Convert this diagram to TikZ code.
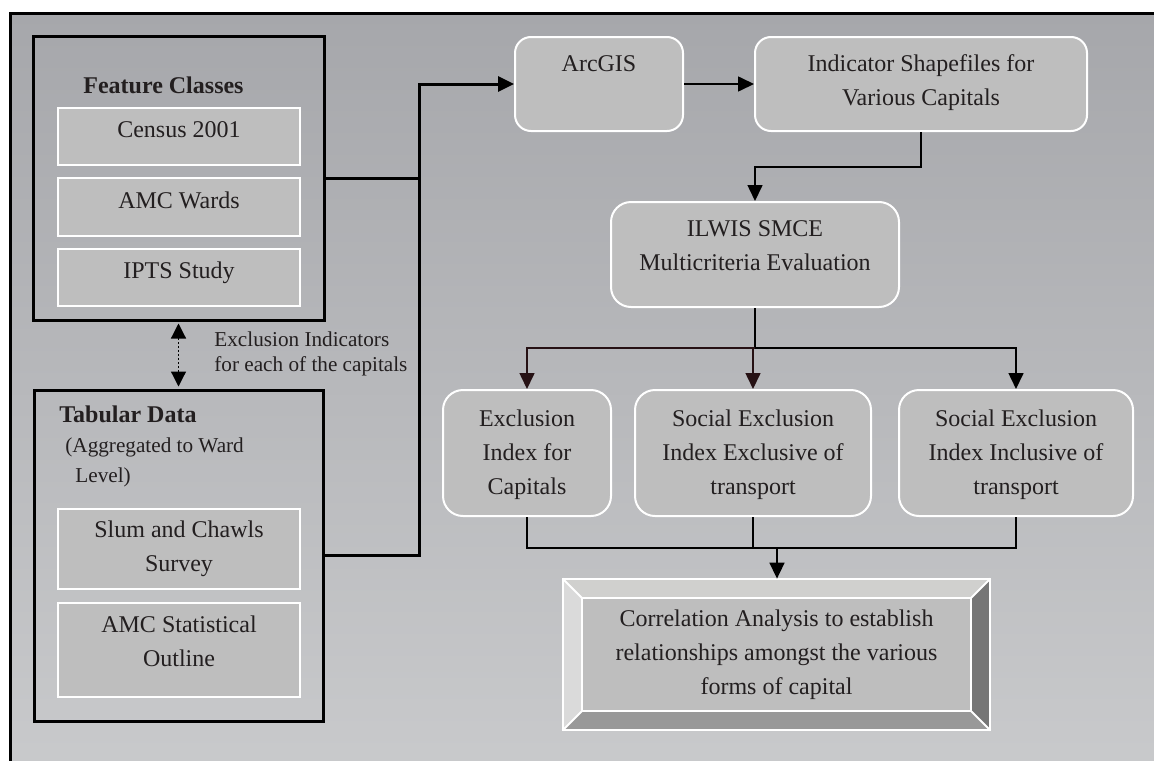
\documentclass[tikz,border=0pt]{standalone}
\usepackage{fontspec}
\setmainfont{Liberation Serif}
\usetikzlibrary{arrows.meta,calc}

\definecolor{bgtop}{HTML}{A6A7AB}
\definecolor{bgbot}{HTML}{C9CACC}
\definecolor{boxfill}{HTML}{BEBEBE}
\definecolor{ink}{HTML}{231F20}
\definecolor{darklink}{HTML}{261114}
\definecolor{bevtop}{HTML}{D0D0CE}
\definecolor{bevleft}{HTML}{DADADA}
\definecolor{bevright}{HTML}{767676}
\definecolor{bevbot}{HTML}{999999}

\tikzset{
  pane/.style={draw=black, line width=1.5pt, inner sep=0pt},
  item/.style={draw=white, line width=1pt, fill=boxfill, inner sep=0pt},
  rbox/.style={item, rounded corners=8pt},
  txt/.style={text=ink, font=\fontsize{12}{17}\selectfont, align=center, anchor=base, inner sep=0pt},
  small/.style={text=ink, font=\fontsize{10.6}{12.3}\selectfont, align=left, anchor=base west, inner sep=0pt},
  head/.style={text=ink, font=\fontsize{12}{17}\selectfont\bfseries, anchor=base west, inner sep=0pt},
  link/.style={draw=black, line width=0.8pt},
  heavy/.style={draw=black, line width=1.5pt},
  tip/.style={-{Triangle[length=8pt,width=7.5pt]}},
}

\begin{document}
\begin{tikzpicture}[x=0.5pt,y=-0.5pt]
\useasboundingbox (0,0) rectangle (1154,760);
\clip (0,0) rectangle (1154,760);
\fill[white] (0,0) rectangle (1154,760);

% page frame with grey gradient
\shade[top color=bgtop,bottom color=bgbot] (10,13) rectangle (1170,775);
\draw[line width=1.5pt] (10,13) rectangle (1170,775);

% ---- left column: input data ----
% (multi-line labels are placed by the baseline of their last line)
\node[pane, minimum width=145.5pt, minimum height=142pt] (feat) at (178.5,178) {};
\node[head] (feathead) at (83,93) {Feature Classes};
\node[item, minimum width=121pt, minimum height=28.5pt] (census) at (179,136.5) {};
\node[item, minimum width=121pt, minimum height=29pt] (wards) at (179,207) {};
\node[item, minimum width=121pt, minimum height=28.5pt] (ipts) at (179,277.5) {};
\node[txt] (censustxt) at (179,137) {Census 2001};
\node[txt] (wardstxt) at (179,208) {AMC Wards};
\node[txt] (iptstxt) at (179,278) {IPTS Study};

\node[pane, minimum width=144.5pt, minimum height=165.5pt] (tab) at (178.5,555.5) {};
\node[head] (tabhead) at (59,422) {Tabular Data};
\node[small, font=\fontsize{10.6}{15}\selectfont] (agg) at (65,482) {(Aggregated to Ward\\\hspace*{5pt}Level)};
\node[item, minimum width=121pt, minimum height=40pt] (slum) at (179,549) {};
\node[item, minimum width=121pt, minimum height=47pt] (stat) at (179,650) {};
\node[txt] (slumtxt) at (179,571) {Slum and Chawls\\Survey};
\node[txt] (stattxt) at (179,666) {AMC Statistical\\Outline};

\draw[black, line width=0.6pt, dash pattern=on 1pt off 1pt,
      {Triangle[length=7.5pt,width=7.5pt]}-{Triangle[length=7.5pt,width=7.5pt]},
      shorten <=1pt, shorten >=1pt] (feat.south) -- (tab.north);
\node[small] (exlab) at (214,371) {Exclusion Indicators\\for each of the capitals};

% ---- processing chain ----
\node[rbox, minimum width=84pt, minimum height=47pt] (arc) at (599,84) {};
\node[txt] (arctxt) at (599,71) {ArcGIS};
\node[rbox, minimum width=166pt, minimum height=47pt] (ind) at (921,84) {};
\node[txt] (indtxt) at (921,105) {Indicator Shapefiles for\\Various Capitals};
\node[rbox, rounded corners=10pt, minimum width=144pt, minimum height=52.5pt] (ilw) at (755,254.5) {};
\node[txt] (ilwtxt) at (755,270) {ILWIS SMCE\\Multicriteria Evaluation};

\node[rbox, rounded corners=10pt, minimum width=84pt, minimum height=63pt] (exc) at (527,453) {};
\node[txt] (exctxt) at (527,494) {Exclusion\\Index for\\Capitals};
\node[rbox, rounded corners=10pt, minimum width=118pt, minimum height=63pt] (mid) at (753,453) {};
\node[txt] (midtxt) at (753,494) {Social Exclusion\\Index Exclusive of\\transport};
\node[rbox, rounded corners=10pt, minimum width=117pt, minimum height=63pt] (rig) at (1016,453) {};
\node[txt] (rigtxt) at (1016,494) {Social Exclusion\\Index Inclusive of\\transport};

% bevelled result box
\node[minimum width=213.5pt, minimum height=75.5pt, inner sep=0pt] (corr) at (776.5,654.5) {};
\coordinate (inw) at ($(corr.north west)+(19,19)$);
\coordinate (ine) at ($(corr.north east)+(-19,19)$);
\coordinate (isw) at ($(corr.south west)+(19,-19)$);
\coordinate (ise) at ($(corr.south east)+(-19,-19)$);
\fill[bevtop] (corr.north west) -- (corr.north east) -- (ine) -- (inw) -- cycle;
\fill[bevleft] (corr.north west) -- (inw) -- (isw) -- (corr.south west) -- cycle;
\fill[bevright] (corr.north east) -- (corr.south east) -- (ise) -- (ine) -- cycle;
\fill[bevbot] (corr.south west) -- (isw) -- (ise) -- (corr.south east) -- cycle;
\fill[boxfill] (inw) rectangle (ise);
\draw[white, line width=1pt] (corr.north west) rectangle (corr.south east);
\draw[white, line width=1pt] (inw) rectangle (ise);
\draw[white, line width=1pt] (corr.north west) -- (inw) (corr.north east) -- (ine)
  (corr.south west) -- (isw) (corr.south east) -- (ise);
\node[txt] (corrtxt) at (776.5,694) {Correlation Analysis to establish\\relationships amongst the various\\forms of capital};

% ---- connectors ----
\coordinate (bus) at (419,178);
\draw[heavy] (feat.east) -- (bus);
\draw[heavy, tip] (tab.east) -- (419,555.5) |- (arc.west);
\draw[link, tip] (arc.east) -- (ind.west);
\draw[link, tip] (ind.south) -- ++(0,35) -| (ilw.north);

\coordinate (split) at (755,348);
\draw[link] (ilw.south) -- (split);
\draw[link, draw=darklink, tip] (split) -| (exc.north);
\draw[link, draw=darklink, tip] (mid.north |- split) -- (mid.north);
\draw[link, tip] (split) -| (rig.north);

\coordinate (join) at (777,548);
\draw[link] (exc.south) |- (join) -| (rig.south);
\draw[link] (mid.south) -- (mid.south |- join);
\draw[link, tip] (join) -- (corr.north -| join);
\end{tikzpicture}
\end{document}
